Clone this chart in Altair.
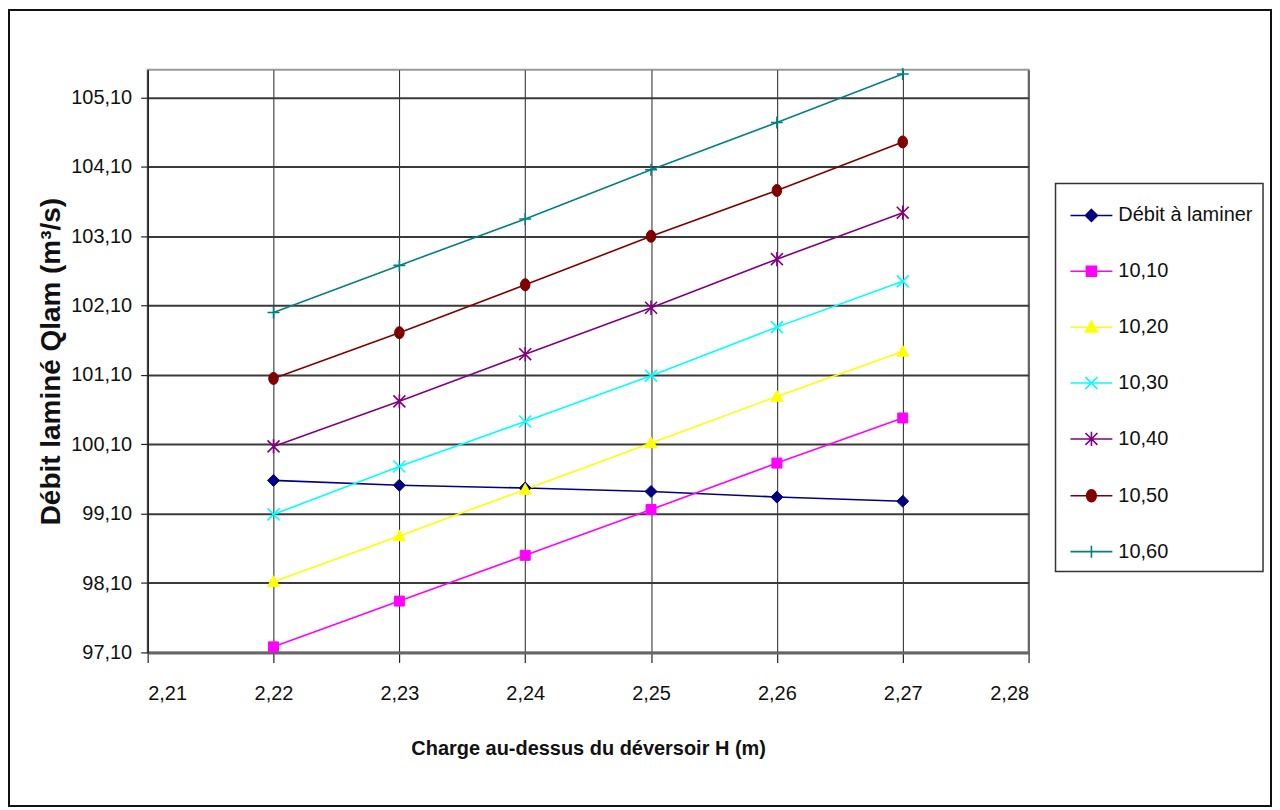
import altair as alt
import pandas as pd

# ---------------- data ----------------
h_values = [2.22, 2.23, 2.24, 2.25, 2.26, 2.27]
series_names = ["Débit à laminer", "10,10", "10,20", "10,30", "10,40", "10,50", "10,60"]
debit_a_laminer = [99.58, 99.51, 99.47, 99.42, 99.34, 99.28]
q_10_10 = [97.18, 97.84, 98.50, 99.16, 99.83, 100.48]
q_10_20 = [98.12, 98.78, 99.45, 100.12, 100.79, 101.44]
q_10_30 = [99.09, 99.78, 100.43, 101.09, 101.79, 102.45]
q_10_40 = [100.07, 100.72, 101.40, 102.07, 102.77, 103.44]
q_10_50 = [101.05, 101.71, 102.40, 103.10, 103.76, 104.46]
q_10_60 = [102.00, 102.68, 103.35, 104.06, 104.74, 105.44]
x_ticks = [2.21, 2.22, 2.23, 2.24, 2.25, 2.26, 2.27, 2.28]
y_ticks = [97.10, 98.10, 99.10, 100.10, 101.10, 102.10, 103.10, 104.10, 105.10]

series_values = [debit_a_laminer, q_10_10, q_10_20, q_10_30, q_10_40, q_10_50, q_10_60]
rows = []
for name, vals in zip(series_names, series_values):
    for h, q in zip(h_values, vals):
        rows.append({"serie": name, "H": h, "Q": q})
df = pd.DataFrame(rows)

# ---------------- styles ----------------
colors = ["#000080", "#FF00FF", "#FFFF00", "#00FFFF", "#800080", "#800000", "#008080"]
FONT = "Liberation Sans, Arial, sans-serif"


def f(v):
    return ("%.4f" % v).rstrip("0").rstrip(".")


def marker_path(kind, s):
    if kind == "diamond":
        return f"M0,{f(-s)}L{f(s)},0L0,{f(s)}L{f(-s)},0Z"
    if kind == "square":
        return f"M{f(-s)},{f(-s)}H{f(s)}V{f(s)}H{f(-s)}Z"
    if kind == "triangle":
        return f"M0,{f(-s)}L{f(s)},{f(0.8*s)}H{f(-s)}Z"
    if kind == "x":
        return f"M{f(-s)},{f(-s)}L{f(s)},{f(s)}M{f(-s)},{f(s)}L{f(s)},{f(-s)}"
    if kind == "asterisk":
        return (f"M{f(-s)},{f(-s)}L{f(s)},{f(s)}M{f(-s)},{f(s)}L{f(s)},{f(-s)}"
                f"M0,{f(-1.2*s)}V{f(1.2*s)}")
    if kind == "ellipse":
        rx, ry = 0.8 * s, s
        return (f"M{f(rx)},0A{f(rx)},{f(ry)},0,1,1,{f(-rx)},0"
                f"A{f(rx)},{f(ry)},0,1,1,{f(rx)},0Z")
    if kind == "plus":
        return f"M{f(-s)},0H{f(s)}M0,{f(-s)}V{f(s)}"


# kind, half size in px, filled
marker_defs = [
    ("diamond", 6, True),
    ("square", 5, True),
    ("triangle", 6, True),
    ("x", 6, False),
    ("asterisk", 6, False),
    ("ellipse", 6, True),
    ("plus", 6, False),
]

W, H = 883, 584
LEG_HALF = 21.0

x_enc = alt.X("H:Q", scale=alt.Scale(domain=[2.21, 2.28], nice=False, zero=False),
              axis=alt.Axis(values=x_ticks,
                            labelExpr="replace(format(datum.value, '.2f'), '.', ',')",
                            title="Charge au-dessus du déversoir H (m)",
                            grid=True, gridColor="#222", gridWidth=1,
                            domainColor="#666", domainWidth=3,
                            tickColor="#222", tickSize=10, tickWidth=1.2,
                            labelFont=FONT, labelFontSize=20, labelColor="#111",
                            labelPadding=21,
                            titleFont=FONT, titleFontSize=20, titleFontWeight="bold",
                            titleColor="#111", titlePadding=35))
y_enc = alt.Y("Q:Q", scale=alt.Scale(domain=[97.1, 105.5], nice=False, zero=False),
              axis=alt.Axis(values=y_ticks,
                            labelExpr="replace(format(datum.value, '.2f'), '.', ',')",
                            title="Débit laminé Qlam (m³/s)",
                            grid=True, gridColor="#3a3a3a", gridWidth=2,
                            domainColor="#222", domainWidth=1.5,
                            tickColor="#222", tickSize=7, tickWidth=1.2,
                            labelFont=FONT, labelFontSize=20, labelColor="#111",
                            labelPadding=9,
                            titleFont=FONT, titleFontSize=28, titleFontWeight="bold",
                            titleColor="#111", titlePadding=5))

# axes carrier (invisible points, draws axes and grid)
base = alt.Chart(df).mark_point(opacity=0).encode(x=x_enc, y=y_enc)

line_layers = []
marker_layers = []
for name, col, (kind, half, filled) in zip(series_names, colors, marker_defs):
    sub = alt.Chart(df).transform_filter(alt.datum.serie == name)
    line_layers.append(sub.mark_line(strokeWidth=1.6, color=col).encode(x="H:Q", y="Q:Q"))
    path = marker_path(kind, 1.0)
    size = (2 * half) ** 2
    if filled:
        mk = sub.mark_point(shape=path, size=size, filled=True, fill=col, stroke=col,
                            strokeWidth=1, opacity=1)
    else:
        mk = sub.mark_point(shape=path, size=size, filled=False, stroke=col,
                            strokeWidth=1.6, opacity=1)
    marker_layers.append(mk.encode(x="H:Q", y="Q:Q"))

legend_paths = ["M-1,0H1" + marker_path(kind, half / LEG_HALF) for kind, half, _ in marker_defs]
leg = alt.Legend(title=None, orient="none", legendX=910, legendY=114,
                 padding=10, symbolOffset=4, labelOffset=5, rowPadding=24,
                 labelFont=FONT, labelFontSize=20, labelColor="#111", labelLimit=400,
                 strokeColor="#333", fillColor="white", symbolOpacity=1,
                 symbolSize=(2 * LEG_HALF) ** 2, symbolStrokeWidth=1.6)
legend_layer = alt.Chart(df).mark_point(filled=True).encode(
    x="H:Q", y="Q:Q",
    opacity=alt.value(0),
    fill=alt.Fill("serie:N", scale=alt.Scale(domain=series_names, range=colors), legend=leg),
    stroke=alt.Stroke("serie:N", scale=alt.Scale(domain=series_names, range=colors), legend=leg),
    shape=alt.Shape("serie:N", scale=alt.Scale(domain=series_names, range=legend_paths), legend=leg),
)

frame = alt.Chart(pd.DataFrame({"k": [0]})).mark_rect(
    filled=False, stroke="#111", strokeWidth=2).encode(
    x=alt.value(-139), x2=alt.value(1126), y=alt.value(-60), y2=alt.value(738))

chart = alt.layer(frame, base, *line_layers, *marker_layers, legend_layer).properties(
    width=W, height=H, padding=0, background="white"
).configure_view(stroke="#999", strokeWidth=2).configure_legend(strokeWidth=1.5)

chart.save("out.html", embed_options={"renderer": "svg", "actions": False})
